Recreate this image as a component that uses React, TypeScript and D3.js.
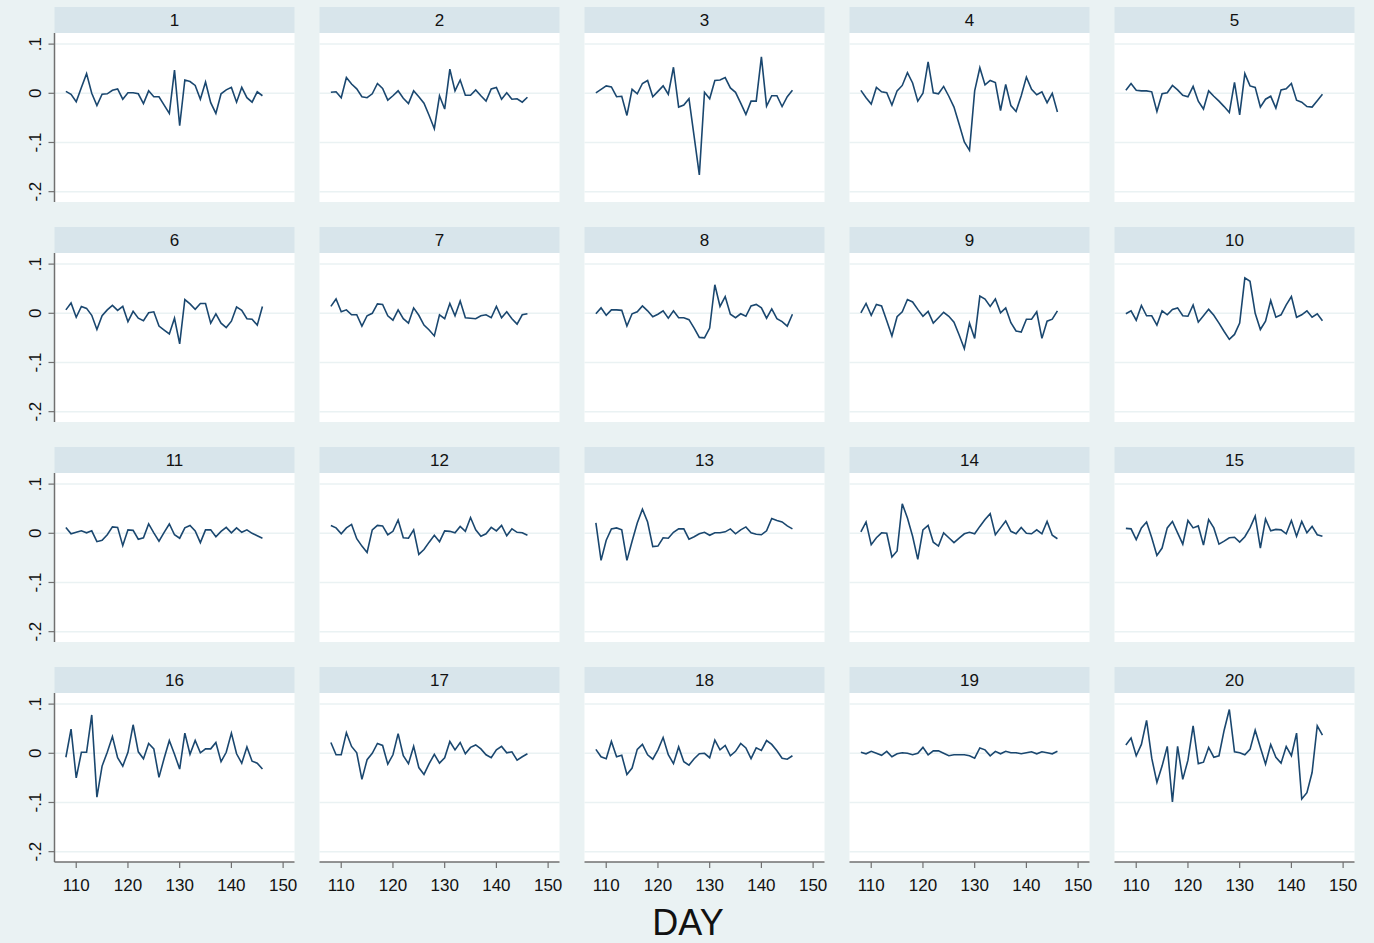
import React from "react";
import * as d3 from "d3";

const days: number[] = d3.range(108, 147);
const panelLabels: string[] = d3.range(1, 21).map(String);
const xTicks: number[] = [110, 120, 130, 140, 150];
const yTicks: number[] = [-0.2, -0.1, 0, 0.1];
const yTickLabels: string[] = ["-.2", "-.1", "0", ".1"];
const xTitle = "DAY";

const s1 = [0.004,-0.002,-0.017,0.012,0.040,0.0,-0.025,-0.002,-0.001,0.006,0.009,-0.012,0.001,0.001,-0.001,-0.021,0.005,-0.007,-0.007,-0.024,-0.041,0.047,-0.066,0.027,0.024,0.016,-0.012,0.023,-0.019,-0.041,-0.001,0.007,0.012,-0.018,0.012,-0.009,-0.018,0.003,-0.005];
const s2 = [0.002,0.003,-0.009,0.032,0.019,0.009,-0.007,-0.009,-0.001,0.020,0.010,-0.014,-0.005,0.005,-0.010,-0.021,0.005,-0.007,-0.020,-0.045,-0.072,-0.005,-0.032,0.049,0.005,0.027,-0.004,-0.004,0.007,-0.005,-0.016,0.009,0.012,-0.012,0.001,-0.012,-0.011,-0.018,-0.008];
const s3 = [0.001,0.008,0.015,0.013,-0.007,-0.006,-0.045,0.008,-0.001,0.020,0.026,-0.007,0.004,0.015,-0.002,0.053,-0.028,-0.024,-0.011,-0.088,-0.166,0.002,-0.011,0.026,0.027,0.032,0.011,0.002,-0.020,-0.043,-0.016,-0.016,0.074,-0.026,-0.005,-0.005,-0.027,-0.007,0.006];
const s4 = [0.006,-0.009,-0.022,0.012,0.003,0.001,-0.024,0.005,0.016,0.042,0.021,-0.016,0.000,0.064,0.001,-0.001,0.014,-0.006,-0.028,-0.063,-0.099,-0.116,0.005,0.052,0.017,0.026,0.022,-0.035,0.018,-0.025,-0.037,-0.005,0.033,0.008,-0.003,0.003,-0.019,0.000,-0.038];
const s5 = [0.006,0.020,0.006,0.005,0.005,0.003,-0.037,-0.001,0.001,0.016,0.007,-0.004,-0.007,0.014,-0.016,-0.032,0.005,-0.006,-0.016,-0.027,-0.039,0.022,-0.044,0.040,0.015,0.012,-0.028,-0.012,-0.006,-0.030,0.007,0.009,0.020,-0.014,-0.018,-0.027,-0.028,-0.015,-0.002];
const s6 = [0.007,0.021,-0.008,0.014,0.010,-0.004,-0.033,-0.005,0.007,0.016,0.006,0.014,-0.017,0.004,-0.010,-0.015,0.001,0.003,-0.026,-0.034,-0.042,-0.010,-0.062,0.028,0.019,0.008,0.020,0.020,-0.020,-0.001,-0.020,-0.029,-0.016,0.013,0.006,-0.011,-0.012,-0.024,0.014];
const s7 = [0.014,0.029,0.003,0.007,-0.003,-0.003,-0.026,-0.005,0.000,0.019,0.018,-0.005,-0.014,0.007,-0.011,-0.020,0.011,-0.004,-0.024,-0.034,-0.046,-0.003,-0.011,0.020,-0.005,0.025,-0.009,-0.010,-0.011,-0.005,-0.003,-0.009,0.014,-0.009,0.003,-0.011,-0.022,-0.003,-0.001];
const s8 = [-0.001,0.011,-0.004,0.007,0.007,0.006,-0.026,-0.001,0.003,0.015,0.005,-0.007,-0.002,0.005,-0.010,0.005,-0.009,-0.009,-0.013,-0.030,-0.049,-0.050,-0.030,0.058,0.014,0.034,-0.002,-0.009,-0.001,-0.006,0.015,0.018,0.011,-0.010,0.009,-0.011,-0.017,-0.026,-0.002];
const s9 = [0.001,0.020,-0.004,0.018,0.015,-0.015,-0.046,-0.007,0.003,0.028,0.023,0.008,-0.006,0.004,-0.020,-0.009,0.002,-0.006,-0.018,-0.044,-0.072,-0.020,-0.051,0.035,0.029,0.014,0.029,0.001,0.011,-0.019,-0.036,-0.038,-0.012,-0.012,0.003,-0.051,-0.016,-0.012,0.005];
const s10 = [-0.001,0.005,-0.014,0.016,-0.005,-0.005,-0.024,0.005,-0.003,0.008,0.011,-0.005,-0.006,0.017,-0.018,-0.005,0.008,-0.004,-0.020,-0.037,-0.053,-0.043,-0.020,0.072,0.065,0.000,-0.033,-0.016,0.026,-0.008,-0.003,0.017,0.034,-0.008,-0.003,0.005,-0.008,-0.001,-0.015];
const s11 = [0.012,-0.001,0.002,0.005,0.001,0.005,-0.017,-0.014,-0.003,0.013,0.012,-0.025,0.007,0.006,-0.012,-0.009,0.019,0.001,-0.016,0.002,0.019,-0.003,-0.010,0.011,0.016,0.005,-0.019,0.007,0.007,-0.007,0.004,0.012,0.001,0.011,0.002,0.007,0.000,-0.005,-0.010];
const s12 = [0.016,0.011,-0.001,0.011,0.018,-0.011,-0.026,-0.039,0.007,0.016,0.015,-0.003,0.004,0.027,-0.009,-0.010,0.007,-0.043,-0.033,-0.018,-0.004,-0.017,0.005,0.004,0.001,0.014,0.004,0.032,0.007,-0.006,-0.001,0.012,0.005,0.016,-0.005,0.009,0.002,0.001,-0.004];
const s13 = [0.021,-0.055,-0.014,0.009,0.011,0.007,-0.055,-0.016,0.021,0.049,0.023,-0.027,-0.026,-0.009,-0.010,0.002,0.009,0.009,-0.012,-0.007,-0.001,0.002,-0.004,0.001,0.001,0.003,0.009,-0.001,0.007,0.013,0.001,-0.002,-0.003,0.005,0.030,0.026,0.023,0.015,0.009];
const s14 = [0.003,0.023,-0.023,-0.009,0.001,0.000,-0.048,-0.036,0.060,0.031,-0.006,-0.053,0.007,0.016,-0.018,-0.026,0.001,-0.009,-0.019,-0.010,-0.001,0.002,-0.001,0.014,0.028,0.040,-0.003,0.011,0.025,0.004,-0.001,0.012,0.000,-0.001,0.007,-0.001,0.024,-0.004,-0.011];
const s15 = [0.010,0.009,-0.013,0.011,0.023,-0.009,-0.045,-0.030,0.011,0.024,0.001,-0.022,0.026,0.011,0.015,-0.024,0.028,0.011,-0.022,-0.016,-0.009,-0.008,-0.018,-0.007,0.011,0.035,-0.030,0.029,0.005,0.008,0.007,-0.001,0.026,-0.006,0.024,0.001,0.014,-0.003,-0.006];
const s16 = [-0.008,0.049,-0.050,0.002,0.002,0.078,-0.089,-0.026,0.002,0.034,-0.009,-0.026,0.002,0.058,0.003,-0.011,0.020,0.009,-0.049,-0.010,0.026,-0.002,-0.032,0.041,-0.002,0.026,0.001,0.009,0.009,0.022,-0.017,0.002,0.041,-0.001,-0.020,0.013,-0.016,-0.020,-0.032];
const s17 = [0.022,-0.003,-0.003,0.042,0.014,0.001,-0.053,-0.013,0.000,0.020,0.016,-0.022,-0.003,0.040,-0.005,-0.021,0.014,-0.029,-0.043,-0.021,-0.002,-0.020,-0.009,0.024,0.007,0.022,-0.001,0.012,0.017,0.009,-0.003,-0.009,0.007,0.014,0.001,0.003,-0.014,-0.007,-0.001];
const s18 = [0.008,-0.007,-0.011,0.024,-0.007,-0.004,-0.043,-0.030,0.008,0.018,-0.003,-0.012,0.007,0.032,-0.003,-0.021,0.013,-0.017,-0.024,-0.011,-0.001,0.000,-0.009,0.027,0.007,0.016,-0.005,0.004,0.020,0.011,-0.011,0.011,0.006,0.026,0.018,0.005,-0.010,-0.012,-0.005];
const s19 = [0.002,-0.001,0.004,0.000,-0.004,0.004,-0.007,-0.001,0.001,0.000,-0.003,0.000,0.012,-0.003,0.005,0.005,0.000,-0.005,-0.003,-0.003,-0.003,-0.005,-0.010,0.011,0.007,-0.005,0.004,-0.001,0.004,0.001,0.001,-0.001,0.001,0.003,-0.001,0.003,0.001,-0.001,0.004];
const s20 = [0.017,0.031,-0.005,0.018,0.067,-0.010,-0.059,-0.026,0.014,-0.099,0.014,-0.053,-0.014,0.056,-0.021,-0.018,0.012,-0.008,-0.005,0.047,0.089,0.003,0.001,-0.003,0.008,0.047,0.012,-0.022,0.018,-0.008,-0.020,0.014,-0.005,0.041,-0.093,-0.080,-0.039,0.056,0.037];

const series: number[][] = [s1,s2,s3,s4,s5,s6,s7,s8,s9,s10,s11,s12,s13,s14,s15,s16,s17,s18,s19,s20];

const W = 1374;
const H = 943;
const nCols = 5;
const colLeft0 = 54.5;
const colStep = 265;
const panelW = 240;
const rowTop0 = 7;
const rowStep = 220;
const headerH = 26;
const plotH = 169;

const BG = "#eaf2f3";
const STRIP = "#d8e5eb";
const GRID = "#eaf2f3";
const LINE = "#1a476f";
const AXIS = "#707070";
const FONT = "Liberation Sans, Arial, Helvetica, sans-serif";

const x = d3.scaleLinear().domain([105.8, 152.2]).range([0, panelW]);
const y = d3.scaleLinear().domain([-0.221, 0.1226]).range([plotH, 0]);
const lineGen = d3
  .line<number>()
  .x((_, i) => x(days[i]))
  .y((v) => y(v));

export default function App() {
  return (
    <svg
      width={W}
      height={H}
      style={{ position: "absolute", left: 0, top: 0, display: "block" }}
      fontFamily={FONT}
    >
      <rect x={0} y={0} width={W} height={H} fill={BG} />
      {series.map((vals, k) => {
        const r = Math.floor(k / nCols);
        const c = k % nCols;
        const left = colLeft0 + c * colStep;
        const top = rowTop0 + r * rowStep;
        const plotTop = top + headerH;
        const isLastRow = r === 3;
        return (
          <g key={k}>
            <rect x={left} y={top} width={panelW} height={headerH} fill={STRIP} />
            <text
              x={left + panelW / 2}
              y={top + 19}
              textAnchor="middle"
              fontSize={17}
              fill="#111"
            >
              {panelLabels[k]}
            </text>
            <g transform={`translate(${left},${plotTop})`}>
              <rect x={0} y={0} width={panelW} height={plotH} fill="#fff" />
              {yTicks.map((t) => (
                <line
                  key={t}
                  x1={0}
                  x2={panelW}
                  y1={y(t)}
                  y2={y(t)}
                  stroke={GRID}
                  strokeWidth={1.5}
                />
              ))}
              <path
                d={lineGen(vals) || ""}
                fill="none"
                stroke={LINE}
                strokeWidth={1.6}
                strokeLinejoin="miter"
              />
              {c === 0 && (
                <g>
                  <line x1={0} x2={0} y1={0} y2={plotH} stroke={AXIS} strokeWidth={1.5} />
                  {yTicks.map((t, i) => (
                    <g key={t}>
                      <line x1={-6} x2={0} y1={y(t)} y2={y(t)} stroke={AXIS} strokeWidth={1.2} />
                      <text
                        transform={`translate(${-14},${y(t)}) rotate(-90)`}
                        textAnchor="middle"
                        fontSize={17}
                        fill="#111"
                      >
                        {yTickLabels[i]}
                      </text>
                    </g>
                  ))}
                </g>
              )}
              {isLastRow && (
                <g>
                  <line x1={0} x2={panelW} y1={plotH} y2={plotH} stroke={AXIS} strokeWidth={1.5} />
                  {xTicks.map((t) => (
                    <g key={t}>
                      <line
                        x1={x(t)}
                        x2={x(t)}
                        y1={plotH}
                        y2={plotH + 6}
                        stroke={AXIS}
                        strokeWidth={1.2}
                      />
                      <text
                        x={x(t)}
                        y={plotH + 29}
                        textAnchor="middle"
                        fontSize={17}
                        fill="#111"
                      >
                        {t}
                      </text>
                    </g>
                  ))}
                </g>
              )}
            </g>
          </g>
        );
      })}
      <text x={688} y={935} textAnchor="middle" fontSize={36} fill="#111">
        {xTitle}
      </text>
    </svg>
  );
}
